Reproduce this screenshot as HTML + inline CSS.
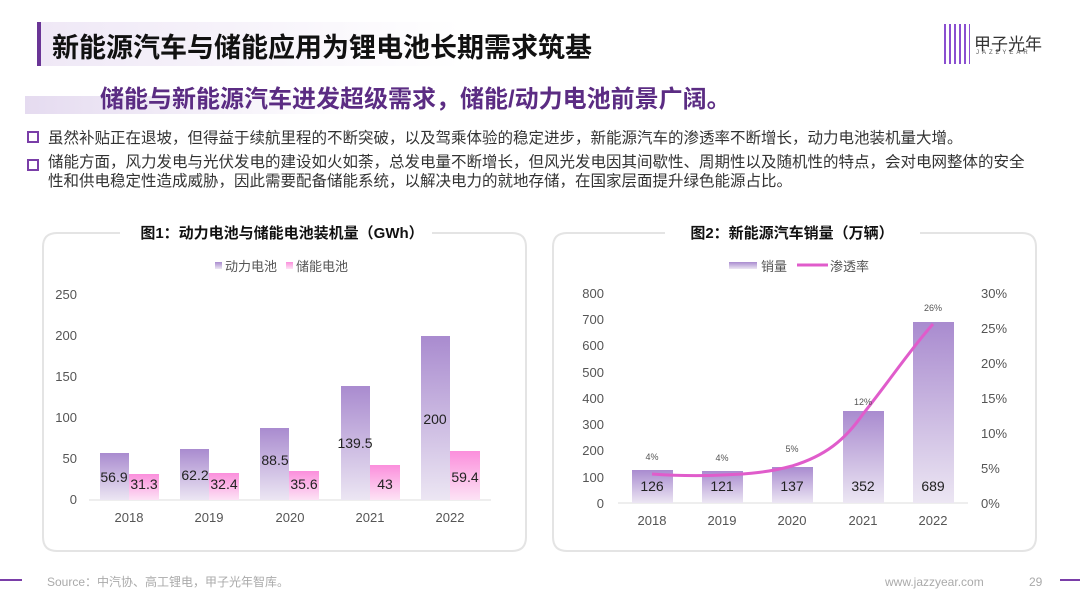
<!DOCTYPE html><html><head><meta charset="utf-8"><style>
body{margin:0;width:1080px;height:607px;background:#fff;position:relative;overflow:hidden;font-family:"Liberation Sans","Noto Sans CJK SC",sans-serif;}
.a{position:absolute;white-space:nowrap;}
</style></head><body>
<div class="a" style="left:37px;top:22px;width:4px;height:44px;background:#6a3596"></div>
<div class="a" style="left:41px;top:22px;width:420px;height:44px;background:linear-gradient(90deg,#efe8f6,#fff)"></div>
<div class="a" style="left:52px;top:26px;font-size:27px;font-weight:bold;color:#111">新能源汽车与储能应用为锂电池长期需求筑基</div>
<div class="a" style="left:944px;top:24px;width:26px;height:40px;background:repeating-linear-gradient(90deg,#8a4fd0 0 2px,transparent 2px 5px)"></div>
<div class="a" style="left:974px;top:30px;font-size:17px;color:#333">甲子光年</div>
<div class="a" style="left:976px;top:50px;font-size:6px;letter-spacing:3px;color:#555">JAZZYEAR</div>
<div class="a" style="left:25px;top:96px;width:320px;height:18px;background:linear-gradient(90deg,#e5dbf0,rgba(255,255,255,0))"></div>
<div class="a" style="left:100px;top:79px;font-size:24px;font-weight:bold;color:#5b2c83">储能与新能源汽车进发超级需求，储能/动力电池前景广阔。</div>
<div class="a" style="left:27px;top:131px;width:8px;height:8px;border:2px solid #7a3ea8"></div>
<div class="a" style="left:48px;top:126px;font-size:15.5px;color:#333">虽然补贴正在退坡，但得益于续航里程的不断突破，以及驾乘体验的稳定进步，新能源汽车的渗透率不断增长，动力电池装机量大增。</div>
<div class="a" style="left:27px;top:159px;width:8px;height:8px;border:2px solid #7a3ea8"></div>
<div class="a" style="left:48px;top:153px;font-size:15.5px;color:#333;line-height:19px">储能方面，风力发电与光伏发电的建设如火如荼，总发电量不断增长，但风光发电因其间歇性、周期性以及随机性的特点，会对电网整体的安全<br>性和供电稳定性造成威胁，因此需要配备储能系统，以解决电力的就地存储，在国家层面提升绿色能源占比。</div>
<svg class="a" style="left:0;top:0" width="1080" height="607">
<defs>
<linearGradient id="p" x1="0" y1="0" x2="0" y2="1"><stop offset="0" stop-color="#a98bcf"/><stop offset="1" stop-color="#ece6f3"/></linearGradient>
<linearGradient id="k" x1="0" y1="0" x2="0" y2="1"><stop offset="0" stop-color="#fb8fdc"/><stop offset="1" stop-color="#fde3f5"/></linearGradient>
</defs>
<g fill="none" stroke="#e4e4e4" stroke-width="2">
<path d="M120 233 H57 Q43 233 43 247 V537 Q43 551 57 551 H512 Q526 551 526 537 V247 Q526 233 512 233 H432"/>
<path d="M665 233 H567 Q553 233 553 247 V537 Q553 551 567 551 H1022 Q1036 551 1036 537 V247 Q1036 233 1022 233 H920"/>
</g>
<g font-size="15" font-weight="bold" fill="#111" text-anchor="middle">
<text x="282" y="238">图1：动力电池与储能电池装机量（GWh）</text>
<text x="792" y="238">图2：新能源汽车销量（万辆）</text>
</g>
<g font-size="13" fill="#555">
<rect x="215" y="262" width="7" height="7" fill="url(#p)"/><text x="225" y="271">动力电池</text>
<rect x="286" y="262" width="7" height="7" fill="url(#k)"/><text x="296" y="271">储能电池</text>
<rect x="729" y="262" width="28" height="7" fill="url(#p)"/><text x="761" y="271">销量</text>
<line x1="797" y1="265" x2="828" y2="265" stroke="#e05ccb" stroke-width="3"/><text x="830" y="271">渗透率</text>
</g>
<g font-size="13" fill="#555" text-anchor="end">
<text x="77" y="504">0</text><text x="77" y="463">50</text><text x="77" y="422">100</text><text x="77" y="381">150</text><text x="77" y="340">200</text><text x="77" y="299">250</text>
<text x="604" y="508">0</text><text x="604" y="482">100</text><text x="604" y="455">200</text><text x="604" y="429">300</text><text x="604" y="403">400</text><text x="604" y="377">500</text><text x="604" y="350">600</text><text x="604" y="324">700</text><text x="604" y="298">800</text>
</g>
<g font-size="13" fill="#555">
<text x="981" y="508">0%</text><text x="981" y="473">5%</text><text x="981" y="438">10%</text><text x="981" y="403">15%</text><text x="981" y="368">20%</text><text x="981" y="333">25%</text><text x="981" y="298">30%</text>
</g>
<line x1="89" y1="500" x2="491" y2="500" stroke="#ddd"/>
<line x1="618" y1="503" x2="968" y2="503" stroke="#ddd"/>
<g fill="url(#p)">
<rect x="100" y="453" width="29" height="47"/><rect x="180" y="449" width="29" height="51"/><rect x="260" y="428" width="29" height="72"/><rect x="341" y="386" width="29" height="114"/><rect x="421" y="336" width="29" height="164"/>
<rect x="632" y="470" width="41" height="33"/><rect x="702" y="471" width="41" height="32"/><rect x="772" y="467" width="41" height="36"/><rect x="843" y="411" width="41" height="92"/><rect x="913" y="322" width="41" height="181"/>
</g>
<g fill="url(#k)">
<rect x="129" y="474" width="30" height="26"/><rect x="209" y="473" width="30" height="27"/><rect x="289" y="471" width="30" height="29"/><rect x="370" y="465" width="30" height="35"/><rect x="450" y="451" width="30" height="49"/>
</g>
<g font-size="14" fill="#222" text-anchor="middle">
<text x="114" y="482">56.9</text><text x="144" y="489">31.3</text><text x="195" y="480">62.2</text><text x="224" y="489">32.4</text><text x="275" y="465">88.5</text><text x="304" y="489">35.6</text><text x="355" y="448">139.5</text><text x="385" y="489">43</text><text x="435" y="424">200</text><text x="465" y="482">59.4</text>
<text x="652" y="491">126</text><text x="722" y="491">121</text><text x="792" y="491">137</text><text x="863" y="491">352</text><text x="933" y="491">689</text>
</g>
<g font-size="13" fill="#555" text-anchor="middle">
<text x="129" y="522">2018</text><text x="209" y="522">2019</text><text x="290" y="522">2020</text><text x="370" y="522">2021</text><text x="450" y="522">2022</text>
<text x="652" y="525">2018</text><text x="722" y="525">2019</text><text x="792" y="525">2020</text><text x="863" y="525">2021</text><text x="933" y="525">2022</text>
</g>
<path d="M652 474 C680 476 700 476 722 475 C750 474 770 472 792 466 C825 456 845 440 863 414 C890 380 910 350 933 324" fill="none" stroke="#e05ccb" stroke-width="3"/>
<g font-size="9" fill="#555" text-anchor="middle">
<text x="652" y="460">4%</text><text x="722" y="461">4%</text><text x="792" y="452">5%</text><text x="863" y="405">12%</text><text x="933" y="311">26%</text>
</g>
<line x1="0" y1="580" x2="22" y2="580" stroke="#7a3ea8" stroke-width="2"/>
<line x1="1060" y1="580" x2="1080" y2="580" stroke="#7a3ea8" stroke-width="2"/>
<g font-size="12" fill="#aaa"><text x="47" y="586">Source：中汽协、高工锂电，甲子光年智库。</text><text x="885" y="586">www.jazzyear.com</text><text x="1029" y="586">29</text></g>
</svg>
</body></html>
